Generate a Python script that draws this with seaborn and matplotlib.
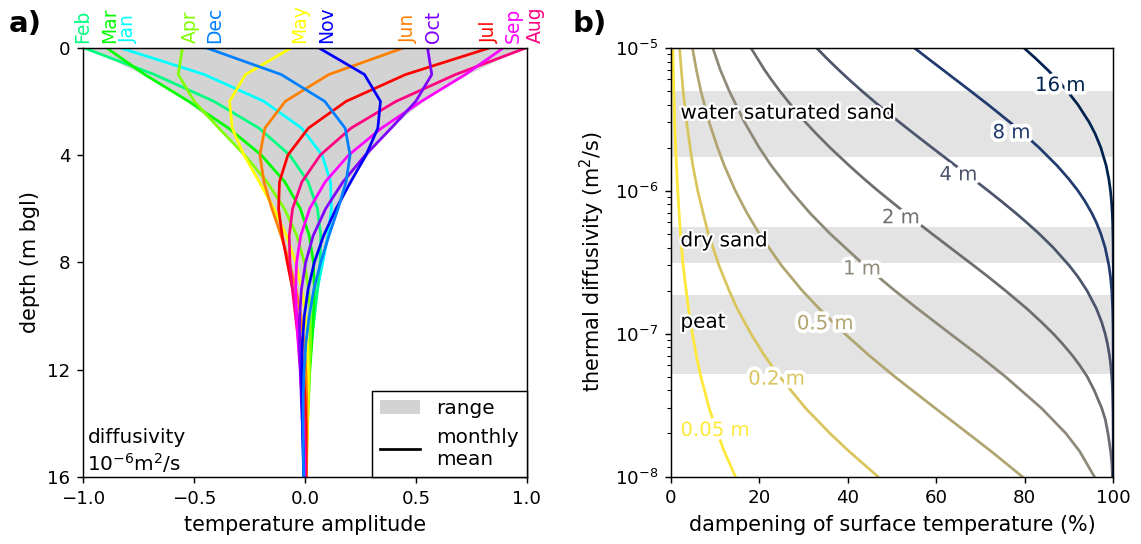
import numpy as np
import pandas as pd
import matplotlib
matplotlib.use("Agg")
import matplotlib.pyplot as plt
import matplotlib.patheffects as pe
from matplotlib.patches import Patch
from matplotlib.lines import Line2D
import seaborn as sns

plt.rcParams['font.family'] = ['DejaVu Sans']

# ---------------- panel a data ----------------
months = ["Jan", "Feb", "Mar", "Apr", "May", "Jun", "Jul", "Aug", "Sep", "Oct", "Nov", "Dec"]
month_colors = ["#00ffff", "#00ff80", "#00ff00", "#80ff00", "#ffff00", "#ff8000",
                "#ff0000", "#ff0080", "#ff00ff", "#8000ff", "#0000ff", "#0080ff"]
depth_m = [0, 1, 2, 3, 4, 5, 6, 7, 8, 9, 10, 11, 12, 13, 14, 15, 16]

jan = [-0.834, -0.453, -0.185, -0.015, 0.077, 0.115, 0.119, 0.103, 0.080, 0.056, 0.035, 0.019, 0.008, 0.000, -0.004, -0.005, -0.005]
feb = [-0.998, -0.678, -0.410, -0.207, -0.069, 0.014, 0.056, 0.071, 0.068, 0.057, 0.043, 0.029, 0.017, 0.009, 0.003, -0.001, -0.002]
mar = [-0.895, -0.722, -0.524, -0.344, -0.197, -0.091, -0.021, 0.019, 0.038, 0.042, 0.038, 0.031, 0.022, 0.015, 0.008, 0.004, 0.001]
apr = [-0.552, -0.571, -0.499, -0.388, -0.272, -0.171, -0.093, -0.037, -0.003, 0.016, 0.024, 0.025, 0.021, 0.017, 0.012, 0.007, 0.004]
may = [-0.061, -0.268, -0.340, -0.328, -0.275, -0.206, -0.140, -0.084, -0.042, -0.014, 0.003, 0.012, 0.015, 0.014, 0.012, 0.009, 0.006]
jun = [0.446, 0.107, -0.089, -0.181, -0.203, -0.185, -0.149, -0.108, -0.071, -0.040, -0.019, -0.004, 0.004, 0.008, 0.009, 0.008, 0.006]
jul = [0.834, 0.453, 0.185, 0.015, -0.077, -0.115, -0.119, -0.103, -0.080, -0.056, -0.035, -0.019, -0.008, 0.000, 0.004, 0.005, 0.005]
aug = [0.998, 0.678, 0.410, 0.207, 0.069, -0.014, -0.056, -0.071, -0.068, -0.057, -0.043, -0.029, -0.017, -0.009, -0.003, 0.001, 0.002]
sep = [0.895, 0.722, 0.524, 0.344, 0.197, 0.091, 0.021, -0.019, -0.038, -0.042, -0.038, -0.031, -0.022, -0.015, -0.008, -0.004, -0.001]
oct_ = [0.552, 0.571, 0.499, 0.388, 0.272, 0.171, 0.093, 0.037, 0.003, -0.016, -0.024, -0.025, -0.021, -0.017, -0.012, -0.007, -0.004]
nov = [0.061, 0.268, 0.340, 0.328, 0.275, 0.206, 0.140, 0.084, 0.042, 0.014, -0.003, -0.012, -0.015, -0.014, -0.012, -0.009, -0.006]
dec = [-0.446, -0.107, 0.089, 0.181, 0.203, 0.185, 0.149, 0.108, 0.071, 0.040, 0.019, 0.004, -0.004, -0.008, -0.009, -0.008, -0.006]
profiles = [jan, feb, mar, apr, may, jun, jul, aug, sep, oct_, nov, dec]

# month label positions along the top (temperature amplitude units)
label_x = [-0.795, -1.002, -0.881, -0.518, -0.023, 0.468, 0.833, 1.036, 0.937, 0.581, 0.097, -0.405]

range_depth = [0, 0.5, 1, 1.5, 2, 2.5, 3, 3.5, 4, 4.5, 5, 5.5, 6, 6.5, 7, 7.5, 8, 8.5,
               9, 9.5, 10, 10.5, 11, 11.5, 12, 12.5, 13, 13.5, 14, 14.5, 15, 15.5, 16]
range_hi = [1.0, 0.8541, 0.7294, 0.6230, 0.5320, 0.4544, 0.3881, 0.3315, 0.2831, 0.2418,
            0.2065, 0.1764, 0.1506, 0.1286, 0.1098, 0.0938, 0.0801, 0.0684, 0.0584, 0.0499,
            0.0426, 0.0364, 0.0311, 0.0266, 0.0227, 0.0194, 0.0165, 0.0141, 0.0121, 0.0103,
            0.0088, 0.0075, 0.0064]
range_lo = [-1.0, -0.8541, -0.7294, -0.6230, -0.5320, -0.4544, -0.3881, -0.3315, -0.2831, -0.2418,
            -0.2065, -0.1764, -0.1506, -0.1286, -0.1098, -0.0938, -0.0801, -0.0684, -0.0584, -0.0499,
            -0.0426, -0.0364, -0.0311, -0.0266, -0.0227, -0.0194, -0.0165, -0.0141, -0.0121, -0.0103,
            -0.0088, -0.0075, -0.0064]

# ---------------- panel b data ----------------
diff_coarse = [1e-8, 1.5e-8, 2e-8, 3e-8, 5e-8, 7e-8, 1e-7, 1.5e-7, 2e-7, 3e-7, 5e-7, 7e-7,
               1e-6, 1.5e-6, 2e-6, 3e-6, 5e-6, 7e-6, 1e-5]
diff_fine = [1e-8, 1.2e-8, 1.5e-8, 2e-8, 2.5e-8, 3e-8, 4e-8, 5e-8, 6e-8, 7e-8, 8.5e-8,
             1e-7, 1.2e-7, 1.5e-7, 2e-7, 2.5e-7, 3e-7, 4e-7, 5e-7, 6e-7, 7e-7, 8.5e-7,
             1e-6, 1.2e-6, 1.5e-6, 2e-6, 2.5e-6, 3e-6, 4e-6, 5e-6, 6e-6, 7e-6, 8.5e-6, 1e-5]

depth_labels = ["0.05 m", "0.2 m", "0.5 m", "1 m", "2 m", "4 m", "8 m", "16 m"]
damp_005 = [14.6, 12.1, 10.6, 8.7, 6.8, 5.8, 4.9, 4.0, 3.5, 2.8, 2.2, 1.9, 1.6, 1.3, 1.1, 0.9, 0.7, 0.6, 0.5]
damp_02 = [46.8, 40.3, 36.0, 30.5, 24.6, 21.2, 18.1, 15.0, 13.2, 10.9, 8.5, 7.3, 6.1, 5.0, 4.4, 3.6, 2.8, 2.4, 2.0]
damp_05 = [79.4, 72.4, 67.2, 59.8, 50.6, 44.9, 39.3, 33.5, 29.7, 25.0, 20.0, 17.2, 14.6, 12.1, 10.6, 8.7, 6.8, 5.8, 4.9]
damp_1 = [95.7, 92.4, 89.3, 83.8, 75.6, 69.7, 63.1, 55.7, 50.6, 43.8, 36.0, 31.4, 27.1, 22.7, 20.0, 16.7, 13.2, 11.2, 9.5]
damp_2 = [99.8, 99.7, 99.4, 98.8, 98.2, 97.4, 95.7, 94.1, 92.4, 90.8, 88.5,
          86.4, 83.8, 80.4, 75.6, 71.7, 68.4, 63.1, 59.0, 55.7, 53.0, 49.6,
          46.8, 43.8, 40.3, 36.0, 32.9, 30.5, 27.1, 24.6, 22.7, 21.2, 19.5, 18.1]
damp_4 = [100.0, 100.0, 100.0, 100.0, 99.97, 99.93, 99.82, 99.65, 99.42, 99.15, 98.68,
          98.15, 97.38, 96.16, 94.05, 91.99, 90.01, 86.41, 83.22, 80.39, 77.88, 74.56,
          71.69, 68.41, 64.31, 59.03, 54.99, 51.74, 46.8, 43.13, 40.26, 37.94, 35.14, 32.9]
damp_8 = [100.0, 100.0, 100.0, 100.0, 100.0, 100.0, 100.0, 100.0, 100.0, 100.0, 99.98,
          99.97, 99.93, 99.85, 99.65, 99.36, 99.00, 98.15, 97.18, 96.16, 95.10, 93.53,
          91.99, 90.01, 87.27, 83.22, 79.74, 76.71, 71.69, 67.66, 64.31, 61.49, 57.93, 54.99]
damp_16 = [100.0, 100.0, 100.0, 100.0, 100.0, 100.0, 100.0, 100.0, 100.0, 100.0, 100.0,
           100.0, 100.0, 100.0, 100.0, 100.0, 99.99, 99.97, 99.92, 99.85, 99.76, 99.58,
           99.36, 99.00, 98.38, 97.18, 95.90, 94.58, 91.99, 89.54, 87.27, 85.16, 82.30, 79.74]
damp_curves = [damp_005, damp_02, damp_05, damp_1, damp_2, damp_4, damp_8, damp_16]
diff_for_curve = [diff_coarse, diff_coarse, diff_coarse, diff_coarse,
                  diff_fine, diff_fine, diff_fine, diff_fine]

# inline label positions (dampening %, diffusivity)
clabel_x = [10.0, 23.9, 34.9, 43.2, 52.0, 65.0, 77.0, 88.0]
clabel_y = [2.1e-8, 4.8e-8, 1.17e-7, 2.83e-7, 6.46e-7, 1.29e-6, 2.54e-6, 5.44e-6]

materials = ["water saturated sand", "dry sand", "peat"]
material_lo = [1.73e-6, 3.1e-7, 5.2e-8]
material_hi = [5.0e-6, 5.56e-7, 1.85e-7]
material_text_y = [3.48e-6, 4.45e-7, 1.2e-7]

# ---------------- figure ----------------
DPI = 131
LABEL_FS = 11.4
TEXT_FS = 11
fig = plt.figure(figsize=(1141 / DPI, 544 / DPI), dpi=DPI)
ax_a = fig.add_axes([83 / 1141, 1 - 477 / 544, 444 / 1141, (477 - 47.7) / 544])
ax_b = fig.add_axes([670.7 / 1141, 1 - 476.5 / 544, 442.6 / 1141, (476.5 - 47.7) / 544])

# panel a
ax_a.fill_betweenx(range_depth, range_lo, range_hi, color="lightgray", lw=0, zorder=0)
df_a = pd.DataFrame({
    "depth": np.tile(depth_m, len(months)),
    "temp": np.concatenate(profiles),
    "month": np.repeat(months, len(depth_m)),
})
sns.lineplot(data=df_a, x="temp", y="depth", hue="month", hue_order=months,
             palette=dict(zip(months, month_colors)), orient="y", estimator=None,
             sort=True, legend=False, linewidth=1.5, ax=ax_a)
ax_a.set_xlim(-1, 1)
ax_a.set_ylim(16, 0)
ax_a.set_xticks([-1.0, -0.5, 0.0, 0.5, 1.0])
ax_a.set_yticks([0, 4, 8, 12, 16])
ax_a.set_xlabel("temperature amplitude", fontsize=LABEL_FS)
ax_a.set_ylabel("depth (m bgl)", fontsize=LABEL_FS)
for m, c, lx in zip(months, month_colors, label_x):
    ax_a.annotate(m, xy=(lx, 1.0), xycoords=("data", "axes fraction"),
                  xytext=(0, 2.5), textcoords="offset points", rotation=90,
                  ha="center", va="bottom", color=c, fontsize=10.3)
ax_a.text(0.01, 0.005, "diffusivity\n$10^{-6}$m$^2$/s", transform=ax_a.transAxes,
          ha="left", va="bottom", fontsize=TEXT_FS)
handles = [Patch(facecolor="lightgray", edgecolor="none", label="range"),
           Line2D([], [], color="k", lw=1.5, label="monthly\nmean")]
leg = ax_a.legend(handles=handles, loc="lower right", borderaxespad=0, fancybox=False,
                  edgecolor="k", framealpha=1, fontsize=TEXT_FS)
leg.get_frame().set_linewidth(0.8)

# panel b
ax_b.set_yscale("log")
for lo, hi in zip(material_lo, material_hi):
    ax_b.axhspan(lo, hi, color="#e3e3e3", lw=0, zorder=0)
cols_b = plt.cm.cividis_r(np.linspace(0, 1, len(depth_labels)))
df_b = pd.DataFrame({
    "diff": np.concatenate(diff_for_curve),
    "damp": np.concatenate(damp_curves),
    "depth": np.concatenate([[lab] * len(d) for lab, d in zip(depth_labels, diff_for_curve)]),
})
sns.lineplot(data=df_b, x="damp", y="diff", hue="depth", hue_order=depth_labels,
             palette=dict(zip(depth_labels, [tuple(c) for c in cols_b])), orient="y",
             estimator=None, sort=True, legend=False, linewidth=1.5, ax=ax_b)
for lab, x, y, c in zip(depth_labels, clabel_x, clabel_y, cols_b):
    ax_b.text(x, y, lab, color=c, ha="center", va="center", fontsize=10.8, zorder=5,
              path_effects=[pe.withStroke(linewidth=4, foreground="white")])
for name, ty in zip(materials, material_text_y):
    ax_b.text(2.2, ty, name, ha="left", va="center", fontsize=TEXT_FS, color="k", zorder=6,
              path_effects=[pe.withStroke(linewidth=2.5, foreground="white")])
ax_b.set_xlim(0, 100)
ax_b.set_ylim(1e-8, 1e-5)
ax_b.set_xticks([0, 20, 40, 60, 80, 100])
ax_b.set_xlabel("dampening of surface temperature (%)", fontsize=LABEL_FS)
ax_b.set_ylabel("thermal diffusivity (m$^2$/s)", fontsize=LABEL_FS)

fig.text(25 / 1141, 1 - 24 / 544, "a)", fontsize=16, fontweight="bold", ha="center", va="center")
fig.text(590 / 1141, 1 - 24 / 544, "b)", fontsize=16, fontweight="bold", ha="center", va="center")

fig.savefig("out.png", dpi=DPI)
